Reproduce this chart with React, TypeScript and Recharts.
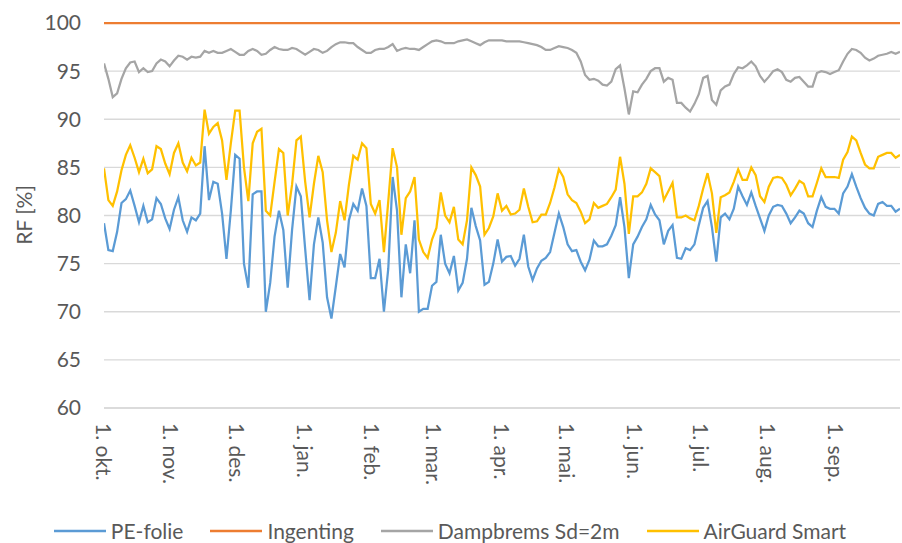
import React from 'react';
import { LineChart, Line, XAxis, YAxis, CartesianGrid, Legend, Label } from 'recharts';

// Month-start positions (day index from 1. okt.) and their tick labels
const monthStarts = [0, 31, 61, 92, 123, 151, 182, 212, 243, 273, 304, 335];
const monthLabels = ['1. okt.', '1. nov.', '1. des.', '1. jan.', '1. feb.', '1. mar.', '1. apr.', '1. mai.', '1. jun.', '1. jul.', '1. aug.', '1. sep.'];

const yTicks = [60, 65, 70, 75, 80, 85, 90, 95, 100];

const seriesNames = ['PE-folie', 'Ingenting', 'Dampbrems Sd=2m', 'AirGuard Smart'];
const seriesColors = ['#5B9BD5', '#ED7D31', '#A5A5A5', '#FFC000'];

// Values read every second day, starting 1. okt.
const peFolie = [
  79.2, 76.4, 76.3, 78.3, 81.3, 81.7, 82.6, 81.0, 79.3, 81.0,
  79.3, 79.6, 81.8, 81.2, 79.7, 78.6, 80.6, 81.9, 79.5, 78.3,
  79.8, 79.5, 80.2, 87.2, 81.6, 83.5, 83.3, 80.2, 75.5, 80.5,
  86.3, 85.9, 75.0, 72.5, 82.2, 82.5, 82.5, 70.0, 73.0, 77.8,
  80.5, 78.5, 72.5, 78.5, 83.0, 82.0, 76.5, 71.2, 77.0, 79.8,
  77.2, 71.5, 69.3, 72.6, 76.0, 74.6, 79.5, 81.2, 80.5, 82.8,
  81.0, 73.5, 73.5, 75.5, 70.0, 74.5, 84.0, 80.5, 71.5, 77.0,
  74.0, 79.5, 70.0, 70.3, 70.3, 72.7, 73.1, 78.0, 75.0, 74.0,
  75.8, 72.2, 73.0, 75.5, 80.8, 78.9, 77.4, 72.8, 73.1, 75.0,
  77.5, 75.2, 75.7, 75.8, 74.8, 75.5, 78.0, 74.7, 73.3, 74.5,
  75.3, 75.6, 76.2, 78.2, 80.2, 78.8, 77.0, 76.3, 76.4, 75.2,
  74.3, 75.4, 77.4, 76.8, 76.8, 77.0, 77.9, 79.0, 81.9, 78.8,
  73.5, 77.0, 77.8, 78.8, 79.6, 81.1, 80.1, 79.5, 77.0, 78.4,
  79.0, 75.6, 75.5, 76.6, 76.4, 77.0, 79.0, 80.8, 81.5, 78.8,
  75.2, 79.8, 80.2, 79.6, 80.7, 83.0, 82.0, 81.1, 82.4, 81.0,
  79.7, 78.4, 80.0, 80.9, 81.1, 81.0, 80.2, 79.2, 79.8, 80.5,
  80.2, 79.2, 78.8, 80.5, 81.9, 80.9, 80.7, 80.7, 80.2, 82.3,
  83.0, 84.3, 83.0, 81.8, 80.8, 80.2, 80.0, 81.2, 81.4, 81.0,
  81.0, 80.4, 80.7,
];

const dampbrems = [
  95.8, 94.2, 92.3, 92.7, 94.2, 95.3, 95.9, 96.0, 94.9, 95.3,
  94.9, 95.0, 95.8, 96.2, 96.0, 95.5, 96.1, 96.6, 96.5, 96.2,
  96.5, 96.4, 96.5, 97.1, 96.9, 97.1, 96.9, 96.9, 97.1, 97.3,
  97.0, 96.7, 96.7, 97.1, 97.3, 97.1, 96.7, 96.8, 97.2, 97.5,
  97.3, 97.2, 97.2, 97.4, 97.3, 97.0, 96.7, 97.0, 97.3, 97.2,
  96.9, 97.1, 97.5, 97.8, 98.0, 98.0, 97.9, 97.9, 97.5, 97.2,
  96.9, 96.9, 97.2, 97.3, 97.3, 97.5, 97.8, 97.1, 97.3, 97.4,
  97.3, 97.3, 97.2, 97.5, 97.8, 98.1, 98.2, 98.1, 97.9, 97.9,
  97.9, 98.1, 98.2, 98.3, 98.1, 97.9, 97.7, 98.0, 98.2, 98.2,
  98.2, 98.2, 98.1, 98.1, 98.1, 98.1, 98.0, 97.9, 97.8, 97.7,
  97.5, 97.2, 97.2, 97.4, 97.6, 97.5, 97.4, 97.2, 96.9, 96.0,
  94.6, 94.1, 94.2, 94.0, 93.6, 93.5, 93.9, 95.2, 95.6, 93.2,
  90.5, 92.9, 92.8, 93.6, 94.2, 95.0, 95.3, 95.3, 93.9, 94.3,
  94.1, 91.7, 91.7, 91.2, 90.8, 91.6, 92.6, 94.3, 94.5, 92.0,
  91.5, 93.0, 93.4, 93.6, 94.7, 95.4, 95.3, 95.6, 96.0, 95.5,
  94.5, 93.9, 94.4, 95.0, 95.2, 94.9, 94.1, 93.9, 94.3, 94.4,
  93.9, 93.4, 93.4, 94.8, 95.0, 94.9, 94.7, 94.9, 95.1, 96.0,
  96.8, 97.3, 97.2, 96.9, 96.4, 96.1, 96.3, 96.6, 96.7, 96.8,
  97.0, 96.8, 97.0,
];

const airGuard = [
  84.9, 81.6, 81.0, 82.5, 84.7, 86.3, 87.3, 86.0, 84.5, 85.9,
  84.4, 84.8, 87.2, 86.9, 85.4, 84.3, 86.5, 87.5, 85.5, 84.6,
  86.0, 85.2, 85.5, 91.0, 88.5, 89.2, 89.6, 87.8, 83.7, 87.5,
  90.9, 90.9, 85.0, 81.5, 87.5, 88.7, 89.0, 80.5, 80.0, 83.5,
  86.9, 86.5, 80.0, 83.2, 87.8, 88.2, 83.5, 79.8, 83.3, 86.2,
  84.5, 79.5, 76.2, 78.2, 81.5, 79.5, 83.2, 86.2, 85.8, 87.5,
  87.0, 81.2, 80.2, 81.6, 76.2, 81.5, 87.0, 85.0, 78.0, 81.8,
  82.5, 84.0, 77.5, 76.2, 75.6, 77.5, 78.7, 82.4, 80.0, 79.3,
  80.9, 77.5, 77.0, 79.5, 85.0, 84.2, 83.0, 78.0, 78.7, 79.9,
  82.3, 80.5, 81.0, 80.1, 80.2, 80.6, 82.8, 80.9, 79.3, 79.4,
  80.1, 80.1, 81.3, 82.9, 84.8, 84.0, 82.2, 81.6, 81.3, 80.4,
  79.2, 79.6, 81.3, 80.8, 81.0, 81.2, 81.9, 82.7, 86.1, 83.3,
  78.1, 82.0, 82.0, 82.4, 83.3, 84.9, 84.5, 84.1, 81.6, 82.5,
  83.4, 79.8, 79.8, 80.0, 79.7, 79.5, 81.0, 82.8, 84.4, 82.3,
  78.2, 81.9, 82.1, 82.4, 83.5, 84.8, 83.7, 83.7, 85.0, 84.2,
  82.0, 81.4, 83.0, 83.9, 84.0, 83.9, 83.2, 82.1, 82.8, 83.6,
  83.3, 82.0, 82.0, 83.4, 84.9, 84.0, 84.0, 84.0, 83.9, 85.8,
  86.6, 88.2, 87.8, 86.5, 85.3, 84.9, 84.9, 86.1, 86.3, 86.5,
  86.5, 86.0, 86.3,
];

// "Ingenting" is a flat line at 100 over the whole year
const ingentingDays = [0, 364];
const ingentingValues = [100, 100];

const table = peFolie.map((v, i) => ({
  day: i * 2,
  pe: v,
  damp: dampbrems[i],
  air: airGuard[i],
}));
const ingentingTable = ingentingDays.map((d, i) => ({ day: d, ing: ingentingValues[i] }));

const FONT = 'Lato, "Noto Sans", sans-serif';
const TEXT = '#595959';

const MonthTick = (props: any) => {
  const { x, y, payload } = props;
  const idx = monthStarts.indexOf(payload.value);
  return (
    <text
      x={x}
      y={y}
      transform={`rotate(90 ${x} ${y})`}
      textAnchor="start"
      dominantBaseline="central"
      fill={TEXT}
      fontSize={21}
      fontFamily={FONT}
    >
      {monthLabels[idx]}
    </text>
  );
};

const YLabel = () => (
  <text
    x={23}
    y={215}
    transform="rotate(-90 23 215)"
    textAnchor="middle"
    dominantBaseline="central"
    fill={TEXT}
    fontSize={21}
    fontFamily={FONT}
  >
    RF [%]
  </text>
);

const LegendContent = () => (
  <div
    style={{
      display: 'flex',
      justifyContent: 'center',
      alignItems: 'center',
      height: 24,
      fontFamily: FONT,
      fontSize: 21,
      color: TEXT,
      whiteSpace: 'nowrap',
    }}
  >
    {seriesNames.map((name, i) => (
      <div key={name} style={{ display: 'flex', alignItems: 'center', marginLeft: i === 0 ? 0 : 27 }}>
        <svg width={52} height={6} style={{ marginRight: 5 }}>
          <line x1={0} y1={3} x2={52} y2={3} stroke={seriesColors[i]} strokeWidth={2.5} />
        </svg>
        <span style={{ lineHeight: '24px' }}>{name}</span>
      </div>
    ))}
  </div>
);

export default function App() {
  return (
    <div style={{ position: 'absolute', left: 0, top: 0, width: 902, height: 543, background: '#fff', fontFamily: FONT }}>
      <LineChart
        width={902}
        height={543}
        data={table}
        margin={{ top: 23, right: 2, bottom: 0, left: 0 }}
      >
        <CartesianGrid vertical={false} stroke="#D9D9D9" strokeWidth={1.3} />
        <XAxis
          dataKey="day"
          type="number"
          domain={[0, 364]}
          ticks={monthStarts}
          interval={0}
          tick={<MonthTick />}
          tickLine={false}
          tickSize={0}
          tickMargin={15}
          axisLine={{ stroke: '#D9D9D9', strokeWidth: 1.3 }}
          height={111}
          allowDataOverflow
        />
        <YAxis
          domain={[60, 100]}
          ticks={yTicks}
          interval={0}
          width={104}
          axisLine={false}
          tickLine={false}
          tickSize={0}
          tickMargin={23}
          tick={{ fill: TEXT, fontSize: 21, fontFamily: FONT }}
        >
          <Label content={<YLabel />} />
        </YAxis>
        <Legend verticalAlign="bottom" content={<LegendContent />} />
        <Line
          data={table}
          dataKey="pe"
          name={seriesNames[0]}
          stroke={seriesColors[0]}
          strokeWidth={2.25}
          dot={false}
          type="linear"
          isAnimationActive={false}
        />
        <Line
          data={ingentingTable}
          dataKey="ing"
          name={seriesNames[1]}
          stroke={seriesColors[1]}
          strokeWidth={2.25}
          dot={false}
          type="linear"
          isAnimationActive={false}
        />
        <Line
          data={table}
          dataKey="damp"
          name={seriesNames[2]}
          stroke={seriesColors[2]}
          strokeWidth={2.25}
          dot={false}
          type="linear"
          isAnimationActive={false}
        />
        <Line
          data={table}
          dataKey="air"
          name={seriesNames[3]}
          stroke={seriesColors[3]}
          strokeWidth={2.25}
          dot={false}
          type="linear"
          isAnimationActive={false}
        />
      </LineChart>
    </div>
  );
}
